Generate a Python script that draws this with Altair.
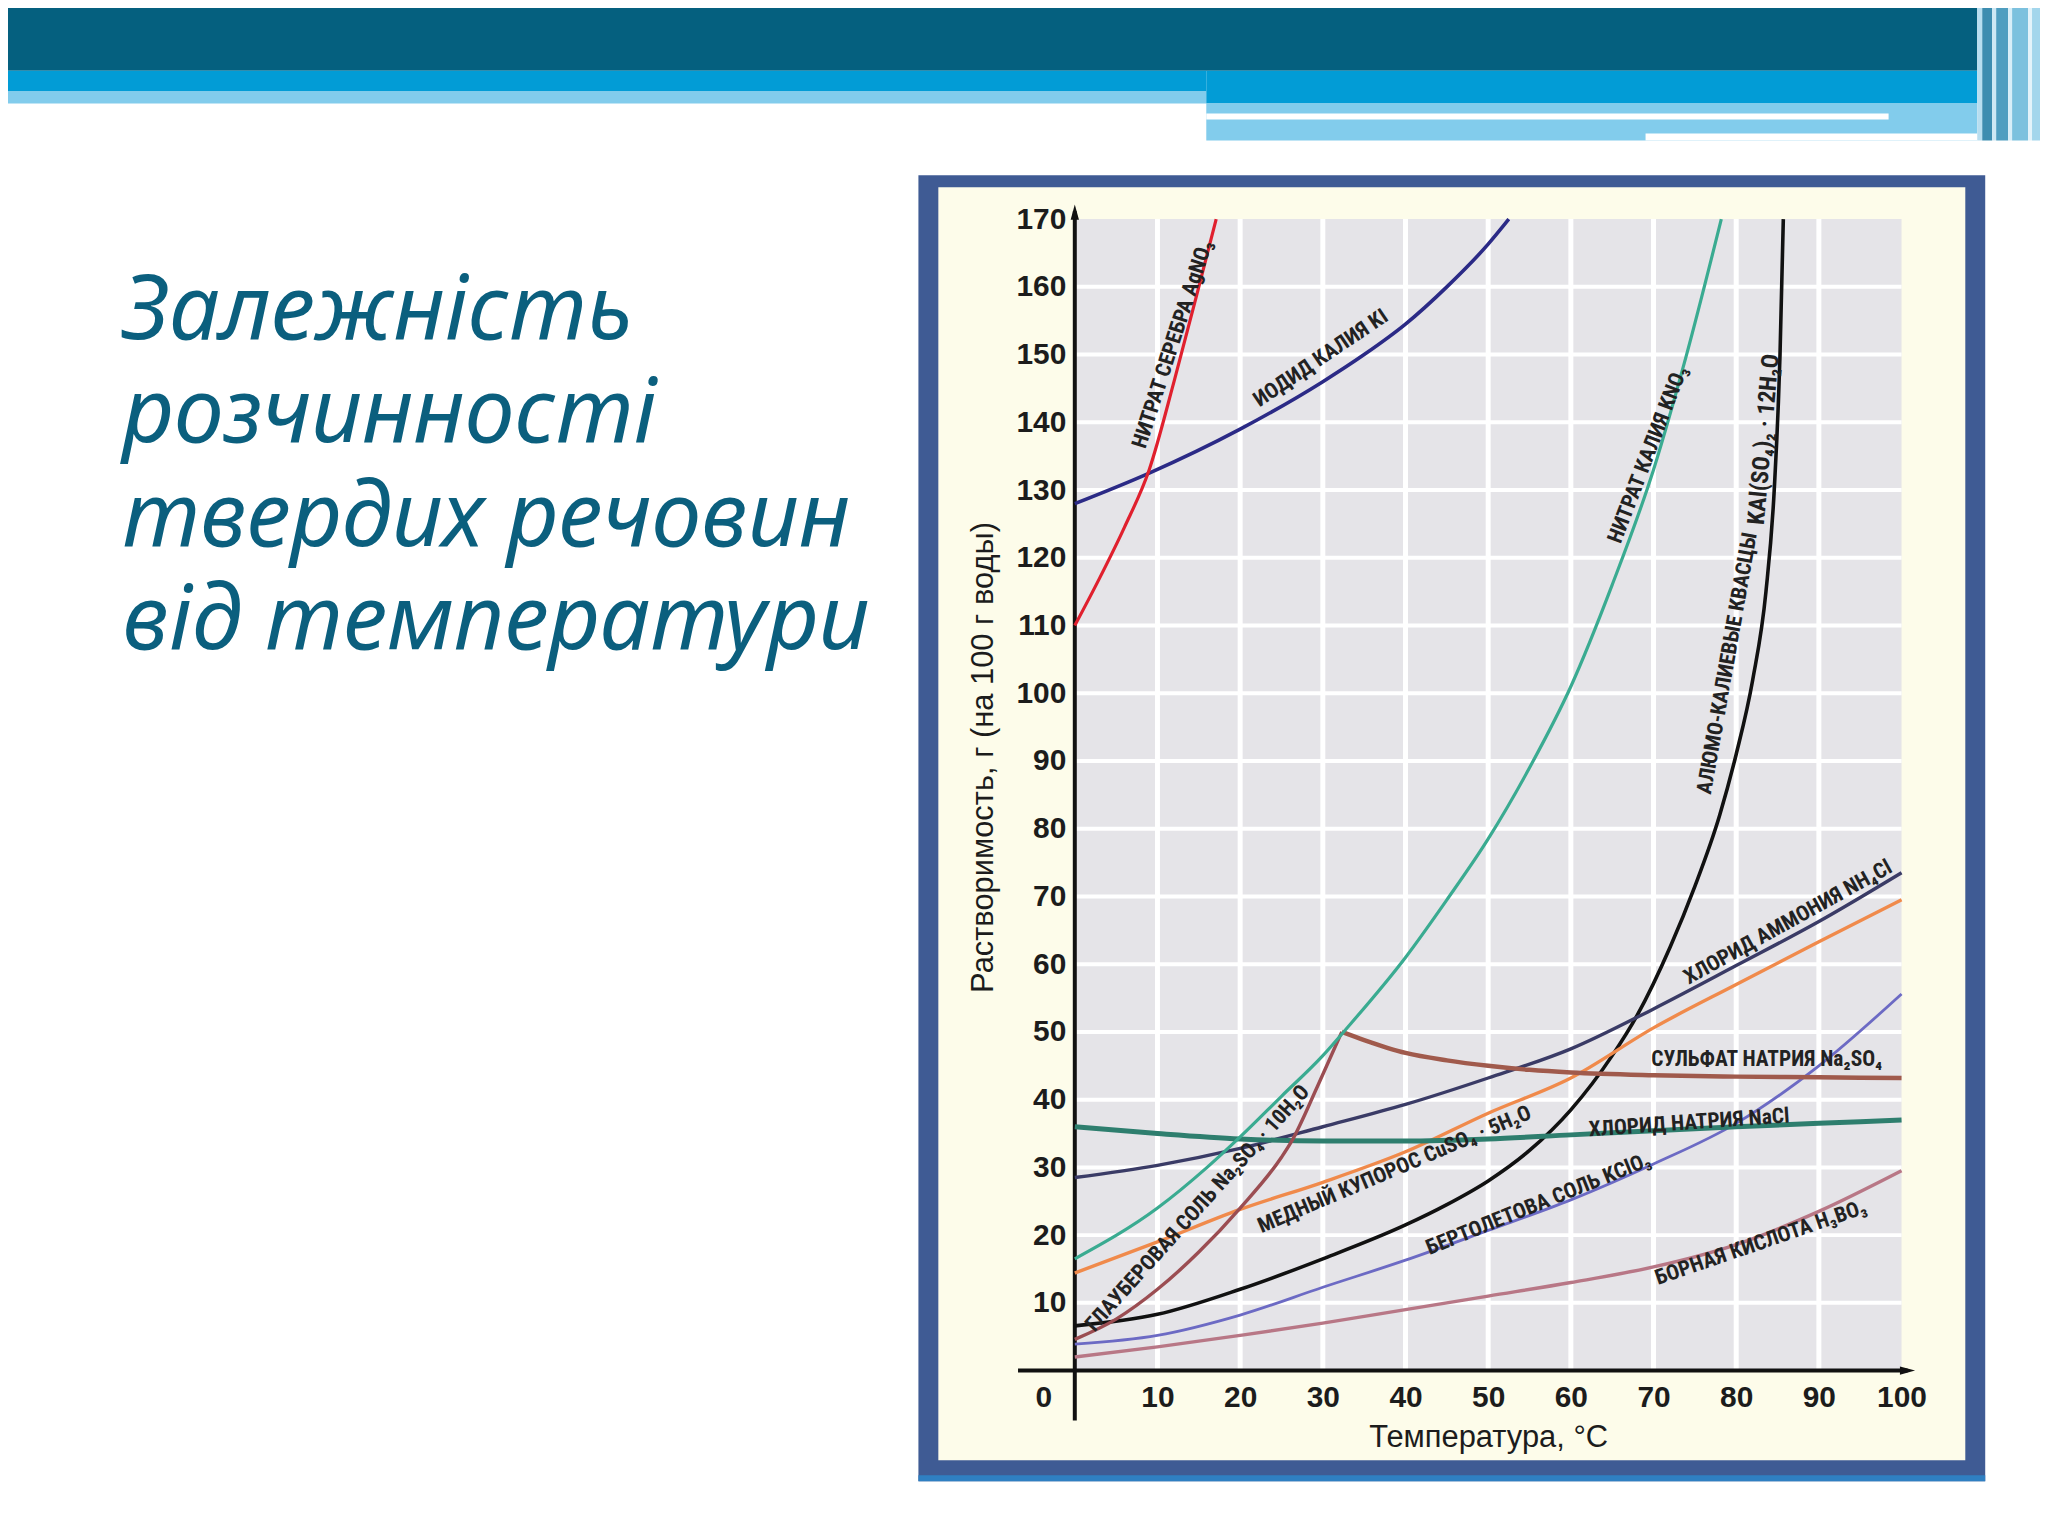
import altair as alt
import pandas as pd

# ---------------- data ----------------
# temperature (°C) and solubility (g per 100 g of water)
agno3_t = [0, 3, 6, 9, 12, 15, 17.1]
agno3_s = [110, 117, 124.5, 133, 146, 160, 170]

ki_t = [0, 8.8, 20, 30, 35, 40, 45, 50, 52.5]
ki_s = [128, 132.4, 139, 146, 150, 154.5, 160, 166.3, 170]

kno3_t = [0, 10, 16, 20, 25, 30, 32.8, 40, 45, 50, 55, 60, 65, 70, 74, 78.2]
kno3_s = [16.5, 24, 30, 34.5, 40.5, 46.5, 50.4, 61, 69.5, 78.5, 89, 101, 116, 133, 150, 170]

alum_t = [0, 10, 20, 30, 40, 45, 50, 55, 60, 65, 68, 72, 75, 78, 80, 82, 83.6, 84.6, 85.3, 85.7]
alum_s = [6.6, 8.3, 12, 16.5, 21.5, 24.5, 28, 32.5, 38.5, 46.5, 52.4, 62.5, 71.5, 82, 91, 102, 115, 130, 150, 170]

nh4cl_t = [0, 10, 20, 30, 40, 50, 60, 70, 80, 90, 100]
nh4cl_s = [28.5, 30.3, 32.8, 36, 39.3, 43.2, 47.5, 53.4, 59.8, 66.3, 73.5]

cuso4_t = [0, 10, 20, 30, 40, 50, 60, 70, 80, 90, 100]
cuso4_s = [14.4, 19, 23.8, 27.8, 32.3, 38, 43.2, 50.6, 57, 63.3, 69.5]

glauber_t = [0, 5, 10, 15, 20, 25, 26.2, 29.4, 32.3]
glauber_s = [4.6, 7.6, 12, 17.5, 24, 31.5, 33.8, 42.1, 50]

na2so4_t = [32.3, 35, 40, 45, 50, 55, 60, 70, 80, 90, 100]
na2so4_s = [50, 48.8, 46.9, 45.8, 45.0, 44.4, 44.0, 43.6, 43.4, 43.3, 43.2]

nacl_t = [0, 10, 20, 30, 40, 50, 60, 70, 80, 90, 100]
nacl_s = [36, 35, 34.2, 33.9, 33.9, 34.2, 34.8, 35.4, 36, 36.5, 37]

kclo3_t = [0, 10, 20, 30, 40, 50, 60, 70, 80, 90, 100]
kclo3_s = [3.9, 5.2, 8.2, 12.3, 16.3, 20.7, 25.2, 30.5, 36.5, 45, 55.6]

h3bo3_t = [0, 10, 20, 30, 40, 50, 60, 70, 80, 90, 100]
h3bo3_s = [2, 3.5, 5.2, 7, 9, 11, 13, 15.3, 18.6, 23.5, 29.5]

# curve labels: text, temperature, solubility, angle
label_text = ["НИТРАТ СЕРЕБРА AgNO₃", "ИОДИД КАЛИЯ KI", "НИТРАТ КАЛИЯ KNO₃",
              "АЛЮМО-КАЛИЕВЫЕ КВАСЦЫ", "ХЛОРИД АММОНИЯ NH₄Cl",
              "СУЛЬФАТ НАТРИЯ Na₂SO₄", "ХЛОРИД НАТРИЯ NaCl", "МЕДНЫЙ КУПОРОС CuSO₄ · 5H₂O",
              "ГЛАУБЕРОВАЯ СОЛЬ Na₂SO₄ · 10H₂O", "БЕРТОЛЕТОВА СОЛЬ KClO₃", "БОРНАЯ КИСЛОТА H₃BO₃"]
label_t = [11.9, 29.8, 69.4, 79.0, 86.3, 83.7, 74.3, 38.7, 14.9, 56.1, 83.0]
label_s = [151.5, 149.4, 135.2, 104.4, 66.1, 45.8, 36.5, 29.6, 23.9, 24.5, 18.8]
label_angle = [288, 326, 291, 280, 331, 0, 356, 337, 312, 338, 341]

formula_text = ["KAl(SO₄)₂ · 12H₂O"]
formula_t = [83.4]
formula_s = [137.5]
formula_angle = [275]

x_ticks = [10, 20, 30, 40, 50, 60, 70, 80, 90, 100]
y_ticks = [10, 20, 30, 40, 50, 60, 70, 80, 90, 100, 110, 120, 130, 140, 150, 160, 170]
x_grid = [10, 20, 30, 40, 50, 60, 70, 80, 90]
y_grid = [10, 20, 30, 40, 50, 60, 70, 80, 90, 100, 110, 120, 130, 140, 150, 160]

title_lines = ["Залежність", "розчинності", "твердих речовин", "від температури"]

# ---------------- layout ----------------
W, H = 830, 1156
OX, OY = 1079, 217          # page position of the plot origin
LABEL_FONT = "Liberation Sans Narrow, Arial Narrow, Roboto Condensed, Liberation Sans"
AX_FONT = "Liberation Sans, Arial"

x_scale = alt.Scale(domain=[0, 100], nice=False, zero=False)
y_scale = alt.Scale(domain=[0, 170], nice=False, zero=False)
x_axis = alt.Axis(values=x_ticks, domain=False, ticks=False, grid=False, zindex=1,
                  labelFlush=False, labelOverlap=False,
                  labelFont=AX_FONT, labelFontSize=30, labelFontWeight="bold",
                  labelColor="#1c1c1c", labelPadding=12,
                  title="Температура, °C", titleFont=AX_FONT, titleFontSize=31,
                  titleFontWeight="normal", titleColor="#1c1c1c", titlePadding=10)
y_axis = alt.Axis(values=y_ticks, domain=False, ticks=False, grid=False, zindex=1,
                  labelFlush=False, labelOverlap=False,
                  labelFont=AX_FONT, labelFontSize=30, labelFontWeight="bold",
                  labelColor="#1c1c1c", labelPadding=9,
                  title="Растворимость, г (на 100 г воды)", titleFont=AX_FONT,
                  titleFontSize=31, titleFontWeight="normal", titleColor="#1c1c1c",
                  titleAngle=270, titleX=-92, titleY=540, titleAlign="center",
                  titleBaseline="middle")


def X(f):
    return alt.X(f, type="quantitative", scale=x_scale, axis=x_axis)


def Y(f):
    return alt.Y(f, type="quantitative", scale=y_scale, axis=y_axis)


one = pd.DataFrame({"k": [0]})


def box(x1, y1, x2, y2, color):
    return alt.Chart(one).mark_rect(color=color, strokeWidth=0).encode(
        x=alt.value(x1 - OX), x2=alt.value(x2 - OX),
        y=alt.value(y1 - OY), y2=alt.value(y2 - OY))


layers = []
# slide banner
layers += [
    box(0, 0, 1985, 68, "#05607f"),
    box(0, 68, 1211, 89, "#029cd6"),
    box(0, 89, 1211, 101, "#82ccec"),
    box(1211, 68, 1985, 101, "#029cd6"),
    box(1211, 101, 1985, 138, "#82ccec"),
    box(1211, 111, 1896, 117, "#ffffff"),
    box(1652, 131, 2007, 138, "#ffffff"),
    box(1985, 0, 1990, 138, "#b8def0"),
    box(1990, 0, 2000, 138, "#3d8db0"),
    box(2000, 0, 2004, 138, "#cde8f4"),
    box(2004, 0, 2016, 138, "#4f9ec0"),
    box(2016, 0, 2020, 138, "#d8eef8"),
    box(2020, 0, 2036, 138, "#7cc1de"),
    box(2036, 0, 2040, 138, "#e3f3fa"),
    box(2040, 0, 2048, 138, "#a3d6ec"),
]
# chart frame
layers += [
    box(922, 173, 1993, 1484, "#3f5b94"),
    box(922, 1478, 1993, 1484, "#2f7fc2"),
    box(942, 185, 1973, 1463, "#fdfcea"),
    box(OX, OY, OX + W, OY + H, "#e5e4e8"),
]

# white grid
gx = pd.DataFrame({"t": x_grid})
gy = pd.DataFrame({"s": y_grid})
layers.append(alt.Chart(gx).mark_rule(color="white", strokeWidth=5).encode(x=X("t")))
layers.append(alt.Chart(gy).mark_rule(color="white", strokeWidth=4).encode(y=Y("s")))

# axis lines with arrows
layers.append(alt.Chart(one).mark_rule(color="#111111", strokeWidth=4).encode(
    x=alt.value(0), y=alt.value(-8), y2=alt.value(1206)))
layers.append(alt.Chart(one).mark_rule(color="#111111", strokeWidth=4).encode(
    y=alt.value(H), x=alt.value(-57), x2=alt.value(836)))
layers.append(alt.Chart(one).mark_point(
    shape="M0,-1L0.55,1L-0.55,1Z", filled=True, color="#111111", opacity=1, size=230
).encode(x=alt.value(0), y=alt.value(-7)))
layers.append(alt.Chart(one).mark_point(
    shape="M1,0L-1,0.55L-1,-0.55Z", filled=True, color="#111111", opacity=1, size=230
).encode(x=alt.value(836), y=alt.value(H)))

# curves
series = [
    (h3bo3_t, h3bo3_s, "#b87786", 3.4),
    (kclo3_t, kclo3_s, "#6c6ac4", 2.8),
    (alum_t, alum_s, "#111111", 3.6),
    (cuso4_t, cuso4_s, "#f08a4b", 3.4),
    (nh4cl_t, nh4cl_s, "#3a3b66", 3.4),
    (nacl_t, nacl_s, "#2e7e6e", 5),
    (na2so4_t, na2so4_s, "#a05a4c", 4.5),
    (glauber_t, glauber_s, "#9b4d52", 3.4),
    (kno3_t, kno3_s, "#3aab91", 3.2),
    (ki_t, ki_s, "#2b2a86", 3.6),
    (agno3_t, agno3_s, "#e0202e", 3.2),
]
for ts, ss, col, w in series:
    df = pd.DataFrame({"t": ts, "s": ss})
    layers.append(alt.Chart(df).mark_line(
        interpolate="monotone", color=col, strokeWidth=w).encode(
        x=X("t"), y=Y("s"), order="t:Q"))

# curve labels
lab = pd.DataFrame({"text": label_text, "t": label_t, "s": label_s, "a": label_angle})
layers.append(alt.Chart(lab).mark_text(
    font=LABEL_FONT, fontSize=21.5, fontWeight="bold", color="#222222",
    align="center", baseline="middle").encode(
    x=X("t"), y=Y("s"), text="text:N", angle=alt.Angle("a:Q", scale=None)))
flab = pd.DataFrame({"text": formula_text, "t": formula_t, "s": formula_s, "a": formula_angle})
layers.append(alt.Chart(flab).mark_text(
    font=LABEL_FONT, fontSize=24, fontWeight="bold", color="#222222",
    align="center", baseline="middle").encode(
    x=X("t"), y=Y("s"), text="text:N", angle=alt.Angle("a:Q", scale=None)))

# "0" at the origin
zero = pd.DataFrame({"t": [0], "s": [0], "text": ["0"]})
layers.append(alt.Chart(zero).mark_text(
    font=AX_FONT, fontSize=30, fontWeight="bold", color="#1c1c1c",
    align="center", baseline="middle", dx=-31, dy=28).encode(
    x=X("t"), y=Y("s"), text="text:N"))

# slide title, one text per line
for i, line in enumerate(title_lines):
    layers.append(alt.Chart(one).mark_text(
        text=line, font="Noto Sans", fontStyle="italic", fontSize=90,
        color="#0b5f7e", align="left", baseline="alphabetic").encode(
        x=alt.value(123 - OX), y=alt.value(337 - OY + 104 * i)))

chart = alt.layer(*layers).properties(
    width=W, height=H,
    autosize=alt.AutoSizeParams(type="none"),
    padding={"left": OX - 8, "top": OY - 8, "right": 2040 - (OX - 8) - W,
             "bottom": 1500 - (OY - 8) - H},
    background="white",
).configure_view(stroke=None)

chart.save("out.html", embed_options={"renderer": "svg", "actions": False})
